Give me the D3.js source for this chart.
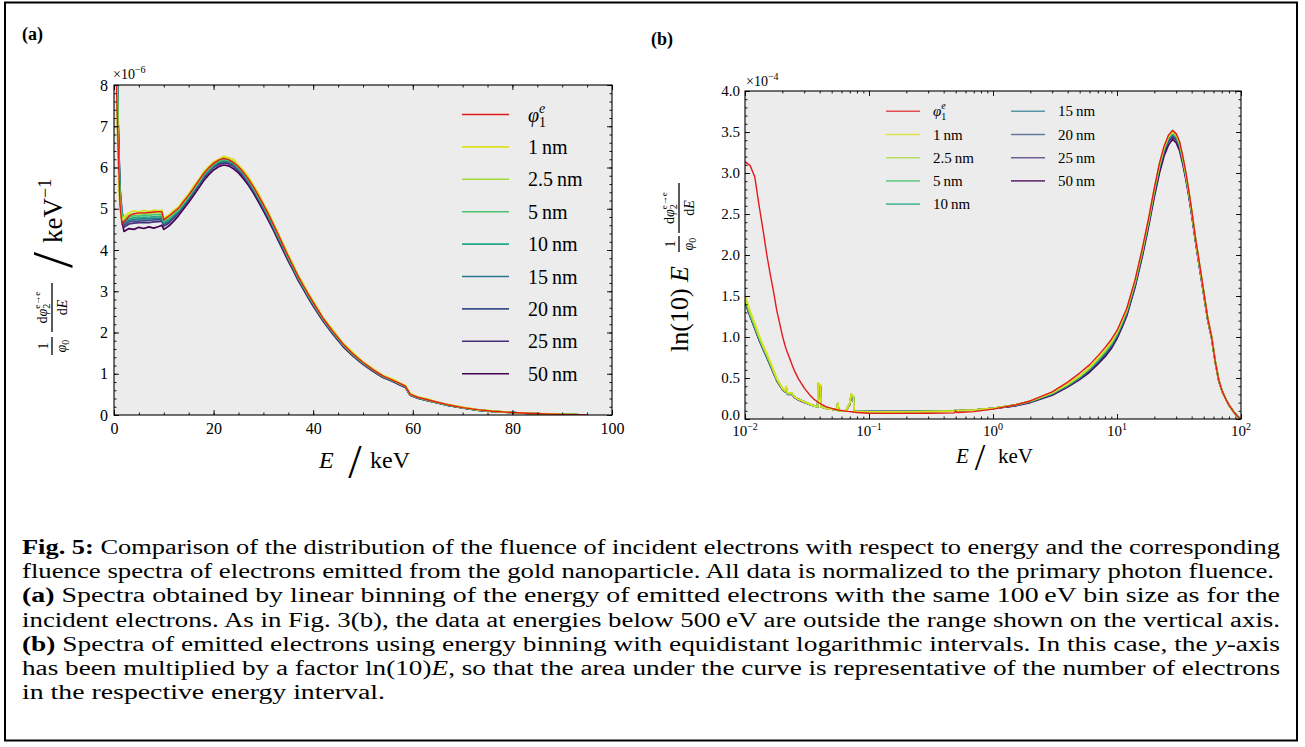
<!DOCTYPE html>
<html>
<head>
<meta charset="utf-8">
<script src="https://cdn.jsdelivr.net/npm/d3@7"></script>
<style>
  body { margin: 0; background: #fff; }
  svg { display: block; }
</style>
</head>
<body>
<svg id="fig" width="1305" height="747"></svg>
<script>
// ---------- panel (a): linear binning, values in 1e-6 keV^-1 ----------
var energyA = [
  0.3, 0.5, 0.8, 1.2, 1.6, 2, 3, 4, 5, 6,
  7, 8, 9, 9.6, 10, 11, 12, 13, 14, 15,
  16, 17, 18, 19, 20, 21, 22, 23, 24, 25,
  26, 27, 28, 29, 30, 31, 32, 33, 34, 35,
  36, 37, 38, 39, 40, 42, 44, 46, 48, 50,
  52, 54, 56, 57.5, 58.5, 59.5, 61, 63, 65, 67,
  70, 73, 76, 80, 84, 88, 92, 95
];
var phi1A = [
  11, 8.0, 6.6, 5.1, 4.62, 4.68, 4.82, 4.88, 4.9, 4.9,
  4.91, 4.92, 4.93, 4.93, 4.73, 4.82, 4.92, 5.02, 5.18, 5.33,
  5.5, 5.68, 5.85, 5.99, 6.1, 6.18, 6.22, 6.19, 6.12, 6.02,
  5.88, 5.72, 5.53, 5.32, 5.1, 4.87, 4.62, 4.37, 4.1, 3.85,
  3.6, 3.36, 3.14, 2.93, 2.73, 2.34, 2.02, 1.72, 1.48, 1.28,
  1.1, 0.95, 0.84, 0.76, 0.7, 0.5, 0.43, 0.37, 0.31, 0.25,
  0.18, 0.13, 0.09, 0.06, 0.035, 0.02, 0.01, 0
];
var nm1A = [
  11, 9.0, 6.2, 5.0, 4.72, 4.8, 4.9, 4.95, 4.92, 4.96,
  4.93, 4.97, 4.95, 4.97, 4.78, 4.85, 4.96, 5.05, 5.22, 5.36,
  5.55, 5.7, 5.9, 6.02, 6.14, 6.2, 6.27, 6.24, 6.2, 6.06,
  5.93, 5.78, 5.57, 5.38, 5.13, 4.92, 4.66, 4.4, 4.15, 3.88,
  3.65, 3.38, 3.19, 2.95, 2.77, 2.36, 2.06, 1.74, 1.52, 1.29,
  1.13, 0.96, 0.87, 0.77, 0.72, 0.52, 0.44, 0.39, 0.31, 0.26,
  0.19, 0.13, 0.1, 0.06, 0.04, 0.02, 0.01, 0
];
var nm2p5A = [
  11, 9.2, 6.4, 5.1, 4.75, 4.75, 4.85, 4.88, 4.87, 4.9,
  4.88, 4.91, 4.9, 4.92, 4.74, 4.8, 4.92, 5.01, 5.17, 5.33,
  5.5, 5.67, 5.86, 5.99, 6.11, 6.18, 6.24, 6.2, 6.15, 6.02,
  5.9, 5.73, 5.54, 5.33, 5.1, 4.88, 4.63, 4.37, 4.12, 3.85,
  3.62, 3.36, 3.15, 2.93, 2.74, 2.34, 2.03, 1.72, 1.49, 1.28,
  1.11, 0.95, 0.85, 0.76, 0.71, 0.5, 0.43, 0.37, 0.31, 0.25,
  0.18, 0.13, 0.09, 0.06, 0.035, 0.02, 0.01, 0
];
var nm5A = [
  11, 9.5, 6.7, 5.2, 4.8, 4.7, 4.8, 4.83, 4.82, 4.85,
  4.84, 4.86, 4.85, 4.87, 4.7, 4.77, 4.88, 4.98, 5.14, 5.3,
  5.47, 5.64, 5.83, 5.96, 6.08, 6.16, 6.2, 6.18, 6.12, 6.0,
  5.87, 5.7, 5.51, 5.3, 5.08, 4.85, 4.6, 4.35, 4.09, 3.83,
  3.59, 3.34, 3.13, 2.91, 2.72, 2.33, 2.01, 1.71, 1.47, 1.27,
  1.1, 0.94, 0.84, 0.75, 0.7, 0.5, 0.42, 0.36, 0.3, 0.25,
  0.18, 0.13, 0.09, 0.06, 0.035, 0.02, 0.01, 0
];
var nm10A = [
  11, 9.8, 7.0, 5.4, 4.9, 4.68, 4.76, 4.78, 4.78, 4.8,
  4.79, 4.81, 4.8, 4.82, 4.67, 4.74, 4.85, 4.96, 5.12, 5.28,
  5.45, 5.62, 5.81, 5.94, 6.06, 6.14, 6.18, 6.16, 6.1, 5.98,
  5.85, 5.68, 5.49, 5.28, 5.06, 4.83, 4.58, 4.33, 4.07, 3.81,
  3.57, 3.33, 3.11, 2.9, 2.7, 2.32, 2.0, 1.7, 1.46, 1.26,
  1.09, 0.94, 0.83, 0.75, 0.69, 0.49, 0.42, 0.36, 0.3, 0.24,
  0.18, 0.12, 0.09, 0.06, 0.035, 0.02, 0.01, 0
];
var nm15A = [
  11, 10, 7.2, 5.5, 4.95, 4.65, 4.72, 4.74, 4.75, 4.76,
  4.75, 4.77, 4.77, 4.78, 4.64, 4.71, 4.83, 4.94, 5.1, 5.26,
  5.43, 5.6, 5.79, 5.92, 6.04, 6.12, 6.16, 6.14, 6.08, 5.96,
  5.83, 5.66, 5.47, 5.26, 5.04, 4.81, 4.56, 4.31, 4.06, 3.8,
  3.56, 3.32, 3.1, 2.89, 2.69, 2.31, 1.99, 1.7, 1.46, 1.26,
  1.09, 0.93, 0.83, 0.74, 0.69, 0.49, 0.42, 0.36, 0.3, 0.24,
  0.18, 0.12, 0.09, 0.06, 0.035, 0.02, 0.01, 0
];
var nm20A = [
  11, 10, 7.3, 5.5, 4.9, 4.6, 4.68, 4.7, 4.7, 4.72,
  4.71, 4.73, 4.73, 4.74, 4.61, 4.68, 4.8, 4.92, 5.08, 5.24,
  5.41, 5.58, 5.77, 5.9, 6.02, 6.1, 6.14, 6.12, 6.06, 5.94,
  5.81, 5.64, 5.45, 5.24, 5.02, 4.79, 4.54, 4.29, 4.04, 3.78,
  3.54, 3.3, 3.09, 2.88, 2.68, 2.3, 1.98, 1.69, 1.45, 1.25,
  1.08, 0.93, 0.82, 0.74, 0.68, 0.49, 0.41, 0.36, 0.3, 0.24,
  0.18, 0.12, 0.09, 0.06, 0.035, 0.02, 0.01, 0
];
var nm25A = [
  11, 10, 7.2, 5.4, 4.8, 4.55, 4.63, 4.65, 4.66, 4.67,
  4.66, 4.68, 4.69, 4.7, 4.58, 4.65, 4.77, 4.9, 5.06, 5.22,
  5.39, 5.56, 5.74, 5.88, 6.0, 6.07, 6.11, 6.09, 6.03, 5.92,
  5.79, 5.62, 5.43, 5.22, 5.0, 4.77, 4.52, 4.27, 4.02, 3.77,
  3.53, 3.29, 3.08, 2.87, 2.67, 2.29, 1.97, 1.68, 1.44, 1.24,
  1.07, 0.92, 0.82, 0.73, 0.68, 0.48, 0.41, 0.35, 0.29, 0.24,
  0.17, 0.12, 0.09, 0.06, 0.035, 0.02, 0.01, 0
];
var nm50A = [
  11, 9.8, 7.0, 5.3, 4.7, 4.45, 4.52, 4.5, 4.55, 4.52,
  4.56, 4.53, 4.57, 4.6, 4.5, 4.58, 4.7, 4.84, 5.0, 5.16,
  5.33, 5.5, 5.68, 5.82, 5.94, 6.02, 6.06, 6.04, 5.97, 5.87,
  5.73, 5.57, 5.38, 5.17, 4.95, 4.72, 4.48, 4.23, 3.98, 3.73,
  3.5, 3.26, 3.05, 2.84, 2.64, 2.27, 1.95, 1.66, 1.43, 1.23,
  1.06, 0.91, 0.81, 0.72, 0.67, 0.48, 0.41, 0.35, 0.29, 0.23,
  0.17, 0.12, 0.09, 0.06, 0.035, 0.02, 0.01, 0
];

// ---------- panel (b): log binning, ln(10) E dphi/dE in 1e-4 ----------
var energyB = [
  0.01, 0.011, 0.012, 0.013, 0.014, 0.015, 0.016, 0.017, 0.018, 0.02,
  0.021, 0.0215, 0.022, 0.024, 0.025, 0.027, 0.03, 0.033, 0.036, 0.0385,
  0.039, 0.0405, 0.041, 0.045, 0.05, 0.055, 0.056, 0.057, 0.065, 0.07,
  0.072, 0.075, 0.076, 0.08, 0.1, 0.15, 0.2, 0.3, 0.4, 0.49,
  0.5, 0.51, 0.7, 1, 1.5, 2, 3, 4, 5, 6,
  7, 8, 9, 10, 11, 12, 14, 16, 18, 20,
  22, 24, 26, 28, 30, 32, 34, 36, 38, 40,
  43, 46, 50, 54, 58, 62, 66, 70, 75, 80,
  87, 94, 100
];
var phi1B = [
  3.14, 3.09, 2.95, 2.6, 2.3, 2.0, 1.76, 1.55, 1.33, 1.02,
  0.9, 0.85, 0.81, 0.66, 0.59, 0.49, 0.38, 0.3, 0.24, 0.21,
  0.2, 0.19, 0.18, 0.15, 0.13, 0.113, 0.11, 0.108, 0.096, 0.09,
  0.088, 0.085, 0.084, 0.08, 0.071, 0.068, 0.068, 0.07, 0.072, 0.075,
  0.1, 0.08, 0.09, 0.12, 0.17, 0.22, 0.33, 0.45, 0.56, 0.66,
  0.77, 0.87, 0.97, 1.08, 1.22, 1.35, 1.7, 2.08, 2.45, 2.82,
  3.12, 3.33, 3.46, 3.52, 3.48, 3.38, 3.2, 3.0, 2.78, 2.55,
  2.2, 1.92, 1.56, 1.22, 1.0, 0.7, 0.48, 0.35, 0.25, 0.17,
  0.09, 0.03, 0
];
var nm1B = [
  1.51, 1.32, 1.17, 1.02, 0.9, 0.8, 0.7, 0.6, 0.5, 0.38,
  0.35, 0.4, 0.32, 0.32, 0.27, 0.24, 0.21, 0.19, 0.16, 0.15,
  0.44, 0.42, 0.15, 0.13, 0.12, 0.11, 0.2, 0.1, 0.1, 0.2,
  0.31, 0.28, 0.09, 0.09, 0.088, 0.087, 0.088, 0.09, 0.093, 0.096,
  0.11, 0.1, 0.11, 0.13, 0.17, 0.22, 0.32, 0.43, 0.53, 0.63,
  0.74, 0.84, 0.94, 1.06, 1.2, 1.34, 1.69, 2.07, 2.44, 2.81,
  3.11, 3.32, 3.45, 3.51, 3.47, 3.37, 3.19, 2.99, 2.77, 2.54,
  2.2, 1.91, 1.55, 1.22, 1.0, 0.7, 0.48, 0.35, 0.25, 0.17,
  0.09, 0.03, 0
];
var nm2p5B = [
  1.47, 1.29, 1.14, 1.0, 0.88, 0.78, 0.68, 0.58, 0.49, 0.37,
  0.34, 0.39, 0.31, 0.31, 0.27, 0.24, 0.21, 0.18, 0.16, 0.15,
  0.43, 0.41, 0.15, 0.13, 0.12, 0.11, 0.19, 0.1, 0.1, 0.19,
  0.3, 0.27, 0.09, 0.09, 0.088, 0.087, 0.088, 0.09, 0.093, 0.096,
  0.11, 0.1, 0.11, 0.13, 0.17, 0.22, 0.32, 0.42, 0.52, 0.62,
  0.73, 0.83, 0.93, 1.05, 1.19, 1.33, 1.68, 2.06, 2.43, 2.8,
  3.1, 3.31, 3.44, 3.5, 3.46, 3.36, 3.18, 2.98, 2.77, 2.54,
  2.2, 1.91, 1.55, 1.22, 1.0, 0.7, 0.48, 0.35, 0.25, 0.17,
  0.09, 0.03, 0
];
var nm5B = [
  1.46, 1.28, 1.13, 0.99, 0.87, 0.77, 0.67, 0.58, 0.49, 0.37,
  0.34, 0.38, 0.31, 0.31, 0.27, 0.24, 0.21, 0.18, 0.16, 0.15,
  0.43, 0.41, 0.15, 0.13, 0.12, 0.11, 0.19, 0.1, 0.1, 0.19,
  0.3, 0.27, 0.09, 0.09, 0.089, 0.088, 0.089, 0.091, 0.094, 0.097,
  0.11, 0.1, 0.11, 0.13, 0.17, 0.22, 0.31, 0.42, 0.52, 0.62,
  0.72, 0.82, 0.92, 1.04, 1.18, 1.32, 1.67, 2.05, 2.42, 2.79,
  3.09, 3.3, 3.43, 3.49, 3.45, 3.35, 3.17, 2.97, 2.76, 2.53,
  2.19, 1.9, 1.55, 1.22, 1.0, 0.7, 0.48, 0.35, 0.25, 0.17,
  0.09, 0.03, 0
];
var nm10B = [
  1.45, 1.27, 1.12, 0.98, 0.87, 0.77, 0.67, 0.57, 0.48, 0.37,
  0.34, 0.38, 0.31, 0.31, 0.27, 0.24, 0.21, 0.18, 0.16, 0.15,
  0.43, 0.41, 0.15, 0.13, 0.12, 0.11, 0.19, 0.1, 0.1, 0.19,
  0.3, 0.27, 0.09, 0.09, 0.09, 0.089, 0.09, 0.092, 0.095, 0.098,
  0.11, 0.1, 0.11, 0.13, 0.17, 0.21, 0.31, 0.41, 0.51, 0.61,
  0.71, 0.81, 0.91, 1.03, 1.17, 1.31, 1.66, 2.04, 2.41, 2.78,
  3.08, 3.29, 3.42, 3.48, 3.44, 3.34, 3.16, 2.96, 2.75, 2.52,
  2.19, 1.9, 1.54, 1.21, 0.99, 0.7, 0.48, 0.35, 0.25, 0.17,
  0.09, 0.03, 0
];
var nm15B = [
  1.44, 1.27, 1.12, 0.98, 0.86, 0.76, 0.66, 0.57, 0.48, 0.37,
  0.34, 0.38, 0.31, 0.31, 0.27, 0.24, 0.21, 0.18, 0.16, 0.15,
  0.43, 0.41, 0.15, 0.13, 0.12, 0.11, 0.19, 0.1, 0.1, 0.19,
  0.3, 0.27, 0.09, 0.09, 0.09, 0.09, 0.091, 0.093, 0.096, 0.099,
  0.11, 0.1, 0.11, 0.13, 0.17, 0.21, 0.31, 0.41, 0.5, 0.6,
  0.7, 0.8, 0.9, 1.02, 1.16, 1.3, 1.65, 2.03, 2.4, 2.77,
  3.07, 3.28, 3.41, 3.47, 3.43, 3.33, 3.15, 2.95, 2.74, 2.52,
  2.18, 1.89, 1.54, 1.21, 0.99, 0.7, 0.48, 0.35, 0.25, 0.17,
  0.09, 0.03, 0
];
var nm20B = [
  1.44, 1.26, 1.11, 0.97, 0.86, 0.76, 0.66, 0.57, 0.48, 0.37,
  0.34, 0.38, 0.31, 0.31, 0.27, 0.24, 0.21, 0.18, 0.16, 0.15,
  0.43, 0.41, 0.15, 0.13, 0.12, 0.11, 0.19, 0.1, 0.1, 0.19,
  0.29, 0.26, 0.09, 0.09, 0.09, 0.09, 0.091, 0.093, 0.096, 0.1,
  0.11, 0.1, 0.11, 0.13, 0.16, 0.21, 0.3, 0.4, 0.5, 0.6,
  0.7, 0.79, 0.89, 1.01, 1.15, 1.29, 1.64, 2.02, 2.39, 2.76,
  3.06, 3.27, 3.4, 3.46, 3.42, 3.32, 3.14, 2.95, 2.74, 2.51,
  2.18, 1.89, 1.54, 1.21, 0.99, 0.7, 0.48, 0.35, 0.25, 0.17,
  0.09, 0.03, 0
];
var nm25B = [
  1.43, 1.26, 1.11, 0.97, 0.85, 0.75, 0.66, 0.56, 0.48, 0.37,
  0.34, 0.38, 0.31, 0.3, 0.27, 0.24, 0.21, 0.18, 0.16, 0.15,
  0.42, 0.4, 0.15, 0.13, 0.12, 0.11, 0.18, 0.1, 0.1, 0.18,
  0.29, 0.26, 0.09, 0.09, 0.09, 0.09, 0.092, 0.094, 0.097, 0.1,
  0.11, 0.1, 0.11, 0.13, 0.16, 0.21, 0.3, 0.4, 0.49, 0.59,
  0.69, 0.78, 0.88, 1.0, 1.14, 1.28, 1.63, 2.01, 2.38, 2.74,
  3.04, 3.25, 3.38, 3.44, 3.4, 3.3, 3.13, 2.94, 2.73, 2.5,
  2.17, 1.88, 1.53, 1.21, 0.99, 0.7, 0.48, 0.35, 0.25, 0.17,
  0.09, 0.03, 0
];
var nm50B = [
  1.42, 1.25, 1.1, 0.96, 0.85, 0.75, 0.65, 0.56, 0.47, 0.36,
  0.33, 0.37, 0.3, 0.3, 0.26, 0.23, 0.2, 0.18, 0.16, 0.15,
  0.41, 0.39, 0.15, 0.13, 0.12, 0.11, 0.18, 0.1, 0.1, 0.18,
  0.28, 0.25, 0.09, 0.09, 0.09, 0.09, 0.092, 0.095, 0.098, 0.1,
  0.11, 0.1, 0.11, 0.13, 0.16, 0.2, 0.29, 0.39, 0.48, 0.57,
  0.67, 0.76, 0.86, 0.98, 1.12, 1.26, 1.61, 1.98, 2.35, 2.71,
  3.0, 3.21, 3.34, 3.41, 3.37, 3.27, 3.1, 2.91, 2.71, 2.49,
  2.16, 1.87, 1.52, 1.2, 0.98, 0.69, 0.47, 0.35, 0.25, 0.17,
  0.09, 0.03, 0
];

var sizeLabels = ["1\u2009nm", "2.5\u2009nm", "5\u2009nm", "10\u2009nm", "15\u2009nm", "20\u2009nm", "25\u2009nm", "50\u2009nm"];
var seriesA = [nm1A, nm2p5A, nm5A, nm10A, nm15A, nm20A, nm25A, nm50A];
var seriesB = [nm1B, nm2p5B, nm5B, nm10B, nm15B, nm20B, nm25B, nm50B];

// tick values
var xMajorA = [0, 20, 40, 60, 80, 100];
var xMinorA = d3.range(0, 101, 5);
var yMajorA = [0, 1, 2, 3, 4, 5, 6, 7, 8];
var yMinorA = d3.range(0, 8.01, 0.2);
var xMajorB = [0.01, 0.1, 1, 10, 100];
var yMajorB = [0, 0.5, 1, 1.5, 2, 2.5, 3, 3.5, 4];
var yMinorB = d3.range(0, 4.01, 0.1);

// styles
var redColor = "#e31a1c";
var sizeColors = ["#d9e21d", "#a5db36", "#4ac16d", "#22a884", "#2a788e", "#3b528b", "#472d7b", "#440154"];
var FONT = "'Liberation Serif', 'DejaVu Serif', serif";

var captionLines = [
  [["Fig. 5:", "b"], [" Comparison of the distribution of the fluence of incident electrons with respect to energy and the corresponding", ""]],
  [["fluence spectra of electrons emitted from the gold nanoparticle. All data is normalized to the primary photon fluence.", ""]],
  [["(a)", "b"], [" Spectra obtained by linear binning of the energy of emitted electrons with the same 100\u2009eV bin size as for the", ""]],
  [["incident electrons. As in Fig. 3(b), the data at energies below 500\u2009eV are outside the range shown on the vertical axis.", ""]],
  [["(b)", "b"], [" Spectra of emitted electrons using energy binning with equidistant logarithmic intervals. In this case, the ", ""], ["y", "i"], ["-axis", ""]],
  [["has been multiplied by a factor ln(10)", ""], ["E", "i"], [", so that the area under the curve is representative of the number of electrons", ""]],
  [["in the respective energy interval.", ""]]
];
var captionWidths = [1258, 1252, 1258, 1258, 1258, 1258, 363];

var svg = d3.select("#fig").style("font-family", FONT);

// outer frame
svg.append("rect").attr("x", 5).attr("y", 2.5).attr("width", 1292).attr("height", 738)
  .attr("fill", "none").attr("stroke", "#000").attr("stroke-width", 2);

function tickSet(g, axisFn, scale, values, len, tr) {
  g.append("g").attr("transform", tr)
    .call(axisFn(scale).tickValues(values).tickSize(-len).tickFormat(""))
    .call(function(s) { s.select(".domain").remove(); })
    .selectAll("line").attr("stroke", "#000").attr("stroke-width", 0.9);
}

// ================= panel (a) =================
var ax0 = 114, ay0 = 85, aw = 498, ah = 330;
var gA = svg.append("g").attr("transform", "translate(" + ax0 + "," + ay0 + ")");
var xA = d3.scaleLinear().domain([0, 100]).range([0, aw]);
var yA = d3.scaleLinear().domain([0, 8]).range([ah, 0]);

gA.append("rect").attr("width", aw).attr("height", ah).attr("fill", "#ececec");
gA.append("clipPath").attr("id", "clipA").append("rect").attr("width", aw).attr("height", ah);

var lineA = d3.line().x(function(d) { return xA(d[0]); }).y(function(d) { return yA(d[1]); });
var curvesA = gA.append("g").attr("clip-path", "url(#clipA)");
for (var i = seriesA.length - 1; i >= 0; i--) {
  curvesA.append("path").datum(d3.zip(energyA, seriesA[i]))
    .attr("fill", "none").attr("stroke", sizeColors[i]).attr("stroke-width", 1.7)
    .attr("stroke-linejoin", "round").attr("d", lineA);
}
curvesA.append("path").datum(d3.zip(energyA, phi1A))
  .attr("fill", "none").attr("stroke", redColor).attr("stroke-width", 1.4)
  .attr("stroke-linejoin", "round").attr("d", lineA);

tickSet(gA, d3.axisBottom, xA, xMinorA, 2.5, "translate(0," + ah + ")");
tickSet(gA, d3.axisBottom, xA, xMajorA, 5, "translate(0," + ah + ")");
tickSet(gA, d3.axisTop, xA, xMinorA, 2.5, "translate(0,0)");
tickSet(gA, d3.axisTop, xA, xMajorA, 5, "translate(0,0)");
tickSet(gA, d3.axisLeft, yA, yMinorA, 2.5, "translate(0,0)");
tickSet(gA, d3.axisLeft, yA, yMajorA, 5, "translate(0,0)");
tickSet(gA, d3.axisRight, yA, yMinorA, 2.5, "translate(" + aw + ",0)");
tickSet(gA, d3.axisRight, yA, yMajorA, 5, "translate(" + aw + ",0)");
gA.append("rect").attr("width", aw).attr("height", ah).attr("fill", "none").attr("stroke", "#000").attr("stroke-width", 1.1);

gA.append("g").attr("transform", "translate(0," + ah + ")")
  .call(d3.axisBottom(xA).tickValues(xMajorA).tickSize(0).tickPadding(8))
  .attr("font-family", null).attr("font-size", 16)
  .call(function(s) { s.select(".domain").remove(); });
gA.append("g")
  .call(d3.axisLeft(yA).tickValues(yMajorA).tickSize(0).tickPadding(6))
  .attr("font-family", null).attr("font-size", 16)
  .call(function(s) { s.select(".domain").remove(); });

var mA = svg.append("text").attr("x", 113).attr("y", 79).attr("font-size", 14);
mA.append("tspan").text("\u00d710");
mA.append("tspan").attr("font-size", 10).attr("dy", -6).text("\u22126");

// legend (a)
var legA = svg.append("g");
var legNamesA = [null].concat(sizeLabels);
var legColorsA = [redColor].concat(sizeColors);
legNamesA.forEach(function(name, k) {
  var yy = 114.5 + k * 32.4;
  legA.append("line").attr("x1", 462).attr("x2", 509).attr("y1", yy).attr("y2", yy)
    .attr("stroke", legColorsA[k]).attr("stroke-width", 1.6);
  var t = legA.append("text").attr("x", 528).attr("y", yy + 7).attr("font-size", 20);
  if (name === null) {
    t.append("tspan").attr("font-style", "italic").text("\u03c6");
    t.append("tspan").attr("font-size", 14).attr("dy", 5).text("1");
    t.append("tspan").attr("font-size", 14).attr("font-style", "italic").attr("dx", -7).attr("dy", -14).text("e");
  } else {
    t.text(name);
  }
});

// y label (a)
var ylA = svg.append("g").attr("transform", "translate(52,0) rotate(-90)").attr("font-size", 14);
ylA.append("line").attr("x1", -355).attr("x2", -337).attr("y1", 0).attr("y2", 0).attr("stroke", "#000").attr("stroke-width", 1.3);
ylA.append("text").attr("x", -346).attr("y", -4).attr("text-anchor", "middle").text("1");
var tA = ylA.append("text").attr("x", -346).attr("y", 14).attr("text-anchor", "middle");
tA.append("tspan").attr("font-style", "italic").text("\u03c6");
tA.append("tspan").attr("font-size", 10).attr("dy", 3).text("0");
ylA.append("line").attr("x1", -332).attr("x2", -283).attr("y1", 0).attr("y2", 0).attr("stroke", "#000").attr("stroke-width", 1.3);
var nA = ylA.append("text").attr("x", -307.5).attr("y", -5).attr("text-anchor", "middle");
nA.append("tspan").text("d");
nA.append("tspan").attr("font-style", "italic").text("\u03c6");
nA.append("tspan").attr("font-size", 10).attr("dy", 3).text("2");
nA.append("tspan").attr("font-size", 9).attr("dx", -5).attr("dy", -10).text("e\u2192e");
var dA = ylA.append("text").attr("x", -307.5).attr("y", 15).attr("text-anchor", "middle");
dA.append("tspan").text("d");
dA.append("tspan").attr("font-style", "italic").text("E");
ylA.append("text").attr("x", -260).attr("y", 0).attr("text-anchor", "middle")
  .attr("dominant-baseline", "central").attr("font-size", 58).text("/");
var kA = ylA.append("text").attr("x", -243).attr("y", 10).attr("font-size", 27);
kA.append("tspan").text("keV");
kA.append("tspan").attr("font-size", 18).attr("dy", -11).text("\u22121");

// x label (a)
svg.append("text").attr("x", 319).attr("y", 468).attr("font-size", 24).attr("font-style", "italic").text("E");
svg.append("text").attr("x", 355).attr("y", 461).attr("text-anchor", "middle")
  .attr("dominant-baseline", "central").attr("font-size", 48).text("/");
svg.append("text").attr("x", 370).attr("y", 468).attr("font-size", 24).text("keV");

svg.append("text").attr("x", 22).attr("y", 40).attr("font-size", 18).attr("font-weight", "bold").text("(a)");

// ================= panel (b) =================
var bx0 = 745, by0 = 91, bw = 496, bh = 328;
var gB = svg.append("g").attr("transform", "translate(" + bx0 + "," + by0 + ")");
var xB = d3.scaleLog().domain([0.01, 100]).range([0, bw]);
var yB = d3.scaleLinear().domain([0, 4]).range([bh, 0]);
var xMinorB = [];
xMajorB.slice(0, -1).forEach(function(d) { for (var m = 2; m <= 9; m++) xMinorB.push(d * m); });

gB.append("rect").attr("width", bw).attr("height", bh).attr("fill", "#ececec");
gB.append("clipPath").attr("id", "clipB").append("rect").attr("width", bw).attr("height", bh);

var lineB = d3.line().x(function(d) { return xB(d[0]); }).y(function(d) { return yB(d[1]); });
var curvesB = gB.append("g").attr("clip-path", "url(#clipB)");
for (var j = seriesB.length - 1; j >= 0; j--) {
  curvesB.append("path").datum(d3.zip(energyB, seriesB[j]))
    .attr("fill", "none").attr("stroke", sizeColors[j]).attr("stroke-width", 1.6)
    .attr("stroke-linejoin", "round").attr("d", lineB);
}
curvesB.append("path").datum(d3.zip(energyB, phi1B))
  .attr("fill", "none").attr("stroke", redColor).attr("stroke-width", 1.4)
  .attr("stroke-linejoin", "round").attr("d", lineB);

tickSet(gB, d3.axisBottom, xB, xMinorB, 2.5, "translate(0," + bh + ")");
tickSet(gB, d3.axisBottom, xB, xMajorB, 5, "translate(0," + bh + ")");
tickSet(gB, d3.axisTop, xB, xMinorB, 2.5, "translate(0,0)");
tickSet(gB, d3.axisTop, xB, xMajorB, 5, "translate(0,0)");
tickSet(gB, d3.axisLeft, yB, yMinorB, 2.5, "translate(0,0)");
tickSet(gB, d3.axisLeft, yB, yMajorB, 5, "translate(0,0)");
tickSet(gB, d3.axisRight, yB, yMinorB, 2.5, "translate(" + bw + ",0)");
tickSet(gB, d3.axisRight, yB, yMajorB, 5, "translate(" + bw + ",0)");
gB.append("rect").attr("width", bw).attr("height", bh).attr("fill", "none").attr("stroke", "#000").attr("stroke-width", 1.1);

gB.append("g")
  .call(d3.axisLeft(yB).tickValues(yMajorB).tickSize(0).tickPadding(5).tickFormat(d3.format(".1f")))
  .attr("font-family", null).attr("font-size", 15)
  .call(function(s) { s.select(".domain").remove(); })
  .selectAll("text").attr("dy", function(d) { return d === 0 ? "0.05em" : "0.32em"; });
gB.selectAll("text.xtl").data(xMajorB).enter().append("text")
  .attr("class", "xtl").attr("x", function(d) { return xB(d); }).attr("y", bh + 17)
  .attr("text-anchor", "middle").attr("font-size", 15)
  .each(function(d) {
    var t = d3.select(this);
    t.append("tspan").text("10");
    var e = Math.round(Math.log10(d));
    t.append("tspan").attr("font-size", 10).attr("dy", -6).text(e < 0 ? "\u2212" + (-e) : String(e));
  });

var mB = svg.append("text").attr("x", 746).attr("y", 86).attr("font-size", 14);
mB.append("tspan").text("\u00d710");
mB.append("tspan").attr("font-size", 10).attr("dy", -6).text("\u22124");

// legend (b)
var legB = svg.append("g");
var legNamesB = [null].concat(sizeLabels);
var legColorsB = [redColor].concat(sizeColors);
legNamesB.forEach(function(name, k) {
  var col = k < 5 ? 0 : 1;
  var row = k < 5 ? k : k - 5;
  var yy = 111.3 + row * 23.2;
  var lx = col === 0 ? 886 : 1011;
  legB.append("line").attr("x1", lx).attr("x2", lx + 34).attr("y1", yy).attr("y2", yy)
    .attr("stroke", legColorsB[k]).attr("stroke-width", 1.6).attr("stroke-opacity", 0.75);
  var t = legB.append("text").attr("x", lx + 47).attr("y", yy + 5).attr("font-size", 15);
  if (name === null) {
    t.append("tspan").attr("font-style", "italic").text("\u03c6");
    t.append("tspan").attr("font-size", 10).attr("dy", 4).text("1");
    t.append("tspan").attr("font-size", 10).attr("font-style", "italic").attr("dx", -5).attr("dy", -11).text("e");
  } else {
    t.text(name);
  }
});

// y label (b)
var ylB = svg.append("g").attr("transform", "translate(679,0) rotate(-90)").attr("font-size", 14);
var lnB = ylB.append("text").attr("x", -352).attr("y", 9).attr("font-size", 26);
lnB.append("tspan").text("ln(10) ");
lnB.append("tspan").attr("font-style", "italic").text("E");
ylB.append("line").attr("x1", -252).attr("x2", -236).attr("y1", 0).attr("y2", 0).attr("stroke", "#000").attr("stroke-width", 1.3);
ylB.append("text").attr("x", -244).attr("y", -4).attr("text-anchor", "middle").text("1");
var tB = ylB.append("text").attr("x", -244).attr("y", 14).attr("text-anchor", "middle");
tB.append("tspan").attr("font-style", "italic").text("\u03c6");
tB.append("tspan").attr("font-size", 10).attr("dy", 3).text("0");
ylB.append("line").attr("x1", -233).attr("x2", -183).attr("y1", 0).attr("y2", 0).attr("stroke", "#000").attr("stroke-width", 1.3);
var nB = ylB.append("text").attr("x", -208).attr("y", -5).attr("text-anchor", "middle");
nB.append("tspan").text("d");
nB.append("tspan").attr("font-style", "italic").text("\u03c6");
nB.append("tspan").attr("font-size", 10).attr("dy", 3).text("2");
nB.append("tspan").attr("font-size", 9).attr("dx", -5).attr("dy", -10).text("e\u2192e");
var dB = ylB.append("text").attr("x", -208).attr("y", 15).attr("text-anchor", "middle");
dB.append("tspan").text("d");
dB.append("tspan").attr("font-style", "italic").text("E");

// x label (b)
svg.append("text").attr("x", 956).attr("y", 463).attr("font-size", 21).attr("font-style", "italic").text("E");
svg.append("text").attr("x", 980).attr("y", 457).attr("text-anchor", "middle")
  .attr("dominant-baseline", "central").attr("font-size", 38).text("/");
svg.append("text").attr("x", 998).attr("y", 463).attr("font-size", 21).text("keV");

svg.append("text").attr("x", 651).attr("y", 45).attr("font-size", 18).attr("font-weight", "bold").text("(b)");

// ================= caption =================
captionLines.forEach(function(segs, k) {
  var t = svg.append("text").attr("x", 22).attr("y", 554 + k * 24.2).attr("font-size", 20)
    .attr("textLength", captionWidths[k]).attr("lengthAdjust", "spacingAndGlyphs");
  segs.forEach(function(s) {
    var ts = t.append("tspan").text(s[0]);
    if (s[1] === "b") ts.attr("font-weight", "bold");
    if (s[1] === "i") ts.attr("font-style", "italic");
  });
});
</script>
</body>
</html>
